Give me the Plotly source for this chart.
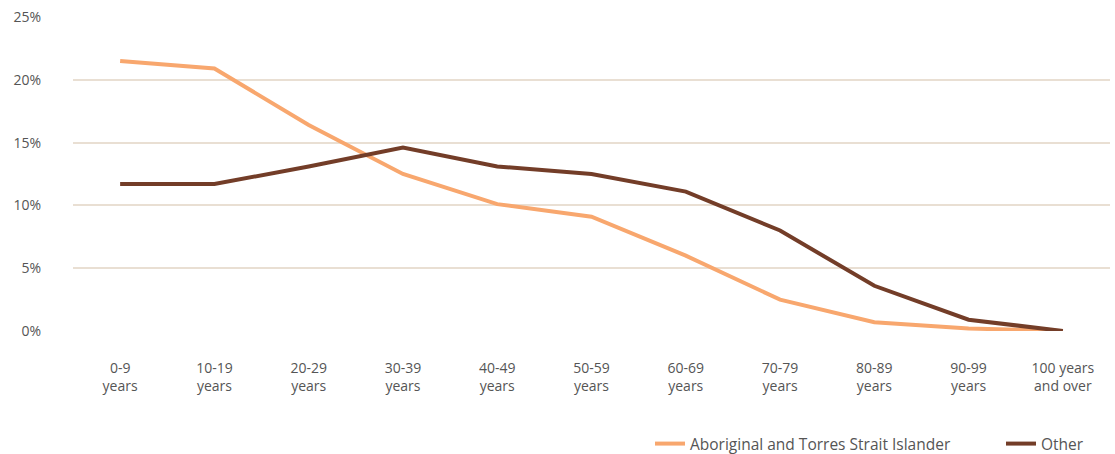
import plotly.graph_objects as go

categories = ["0-9<br>years", "10-19<br>years", "20-29<br>years", "30-39<br>years",
              "40-49<br>years", "50-59<br>years", "60-69<br>years", "70-79<br>years",
              "80-89<br>years", "90-99<br>years", "100 years<br>and over"]
aboriginal = [21.5, 20.9, 16.4, 12.5, 10.1, 9.1, 6.0, 2.5, 0.7, 0.2, 0.0]
other = [11.7, 11.7, 13.1, 14.6, 13.1, 12.5, 11.1, 8.0, 3.6, 0.9, 0.0]
y_ticks = [0, 5, 10, 15, 20, 25]
y_tick_labels = ["0%", "5%", "10%", "15%", "20%", "25%"]

series_names = ["Aboriginal and Torres Strait Islander", "Other"]
colors = ["#F8A76E", "#733D28"]

FONT = "Open Sans"

fig = go.Figure()
for name, vals, col in zip(series_names, [aboriginal, other], colors):
    fig.add_trace(go.Scatter(
        x=list(range(len(categories))), y=vals, mode="lines", name=name,
        line=dict(color=col, width=4),
    ))

fig.update_layout(
    width=1115, height=454,
    margin=dict(l=73, r=5, t=17, b=123, autoexpand=False),
    paper_bgcolor="white", plot_bgcolor="white",
    font=dict(family=FONT, size=14, color="#555555"),
    showlegend=True,
    legend=dict(orientation="h", x=650 / 1115, xanchor="left", xref="container",
                y=0.022, yanchor="middle", yref="container",
                font=dict(size=15.5, color="#555555"), traceorder="normal",
                entrywidth=306),
)
fig.update_xaxes(
    tickmode="array", tickvals=list(range(len(categories))), ticktext=categories,
    range=[-0.5, len(categories) - 0.5], showgrid=False, zeroline=False,
    showline=False, ticks="", ticklabelstandoff=27, automargin=False,
    tickfont=dict(size=14, color="#555555"),
)
fig.update_yaxes(
    range=[0, 25], tickmode="array", tickvals=y_ticks, ticktext=y_tick_labels,
    showgrid=True, gridcolor="#E9DFD3", gridwidth=2, zeroline=False,
    showline=False, ticks="", ticklabelstandoff=31, automargin=False,
    tickfont=dict(size=14, color="#555555"),
)

fig.write_html("out.html")
